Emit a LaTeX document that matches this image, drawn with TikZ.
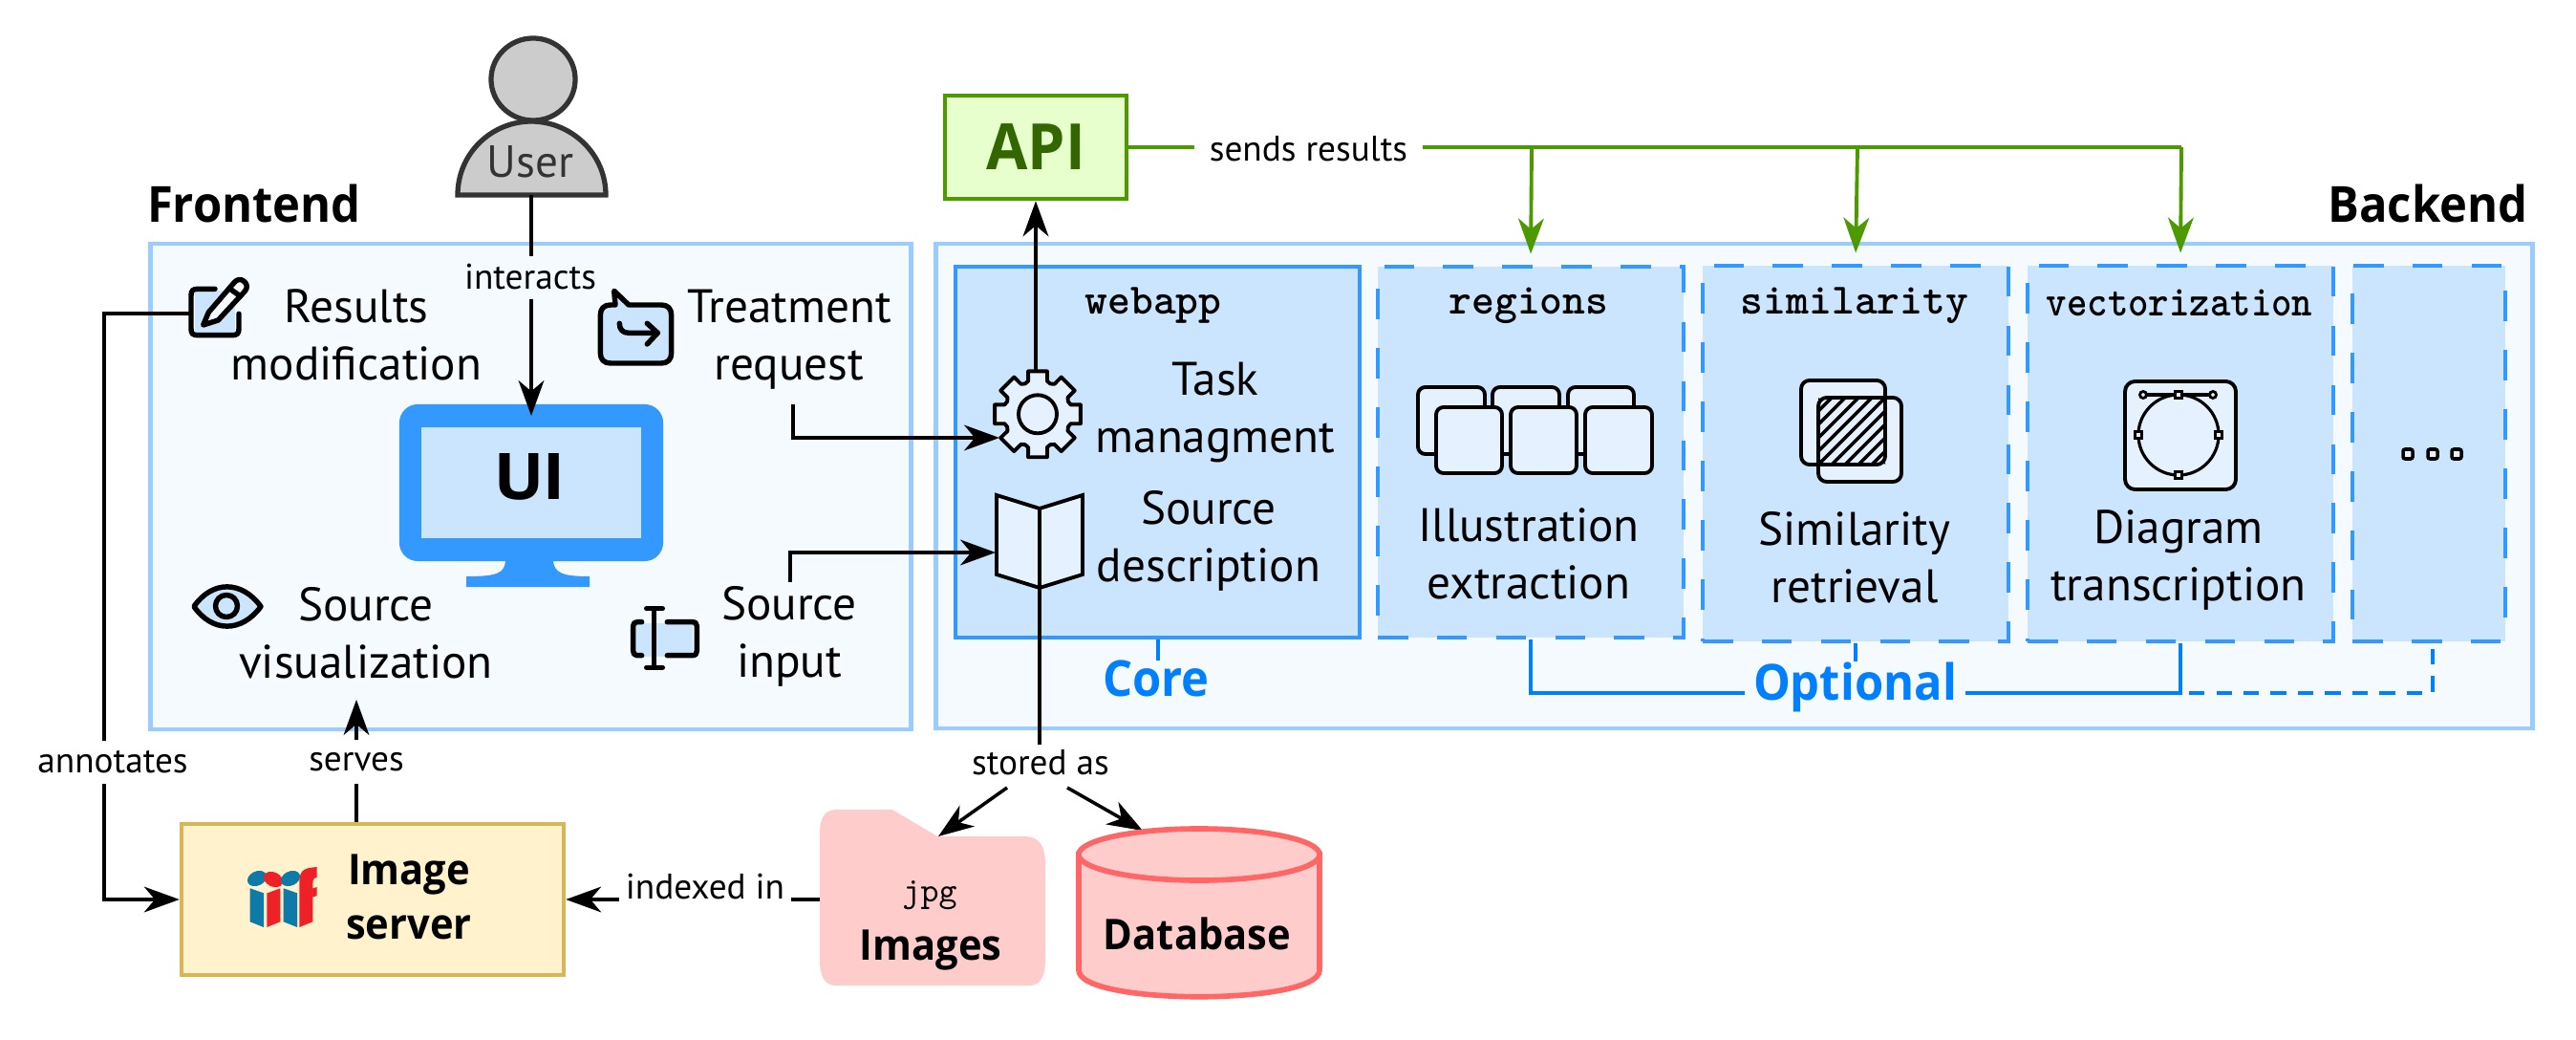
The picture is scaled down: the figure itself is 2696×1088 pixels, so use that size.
\documentclass[tikz,border=0pt]{standalone}
\usepackage{fontspec}
\usepackage{graphicx}
\usetikzlibrary{arrows.meta}
\setmainfont{PT Sans}
\newfontfamily\hdfont{Open Sans}[FakeStretch=0.94]
\definecolor{framefill}{HTML}{F5FAFF}
\definecolor{frameline}{HTML}{99CCFF}
\definecolor{bluefill}{HTML}{CCE5FF}
\definecolor{blueline}{HTML}{3399FF}
\definecolor{bluetext}{HTML}{007FFF}
\definecolor{iconfill}{HTML}{E5F1FF}
\definecolor{apiline}{HTML}{4D9900}
\definecolor{apifill}{HTML}{E6FFCC}
\definecolor{apitext}{HTML}{336600}
\definecolor{srvfill}{HTML}{FFF2CC}
\definecolor{srvline}{HTML}{D6B656}
\definecolor{redfill}{HTML}{FFCCCC}
\definecolor{redline}{HTML}{FF6666}
\definecolor{usergray}{HTML}{CCCCCC}
\definecolor{userline}{HTML}{333333}
\definecolor{iiifblue}{HTML}{0E7AA8}
\definecolor{iiifred}{HTML}{EE2126}
\tikzset{
 x=0.01cm,y=-0.01cm,
 frame/.style={draw=frameline,fill=framefill,line width=1.3pt,inner sep=0,rectangle},
 corebox/.style={draw=blueline,fill=bluefill,line width=1.2pt,inner sep=0,rectangle},
 optbox/.style={corebox,dash pattern=on 9pt off 8.6pt},
 apibox/.style={draw=apiline,fill=apifill,line width=1.3pt,inner sep=0,rectangle},
 srvbox/.style={draw=srvline,fill=srvfill,line width=1.2pt,inner sep=0,rectangle},
 conn/.style={draw=black,line width=1pt},
 arr/.style={conn,-{Stealth[length=10.5pt,width=7.6pt,inset=3.2pt]}},
 gconn/.style={draw=apiline,line width=1.1pt},
 garr/.style={gconn,-{Stealth[length=10.5pt,width=7.6pt,inset=3.2pt]},shorten >=3.2pt},
 bconn/.style={draw=bluetext,line width=1.1pt},
 body/.style={inner sep=0,align=center,font=\fontsize{14}{17.07}\selectfont},
 lab/.style={inner sep=0,minimum height=.45cm,font=\fontsize{10.6}{12}\selectfont},
 head/.style={inner sep=0,font=\hdfont\bfseries\fontsize{14.8}{17}\selectfont},
 bold/.style={inner sep=0,align=center,font=\hdfont\bfseries\fontsize{12.6}{16.2}\selectfont},
 pkg/.style={inner sep=0,font=\ttfamily\bfseries\fontsize{12.9}{14}\selectfont},
 icon/.style={draw=black,fill=iconfill,line width=1.1pt,line join=round},
 iconb/.style={draw=black,line width=1.55pt,line cap=round,line join=round},
}
\begin{document}
\begin{tikzpicture}
\useasboundingbox (0,0) rectangle (2696,1088);
\fill[white] (0,0) rectangle (2696,1088);
% frames
\node[frame,minimum width=7.95cm,minimum height=5.08cm] (frontbox) at (555.5,509) {};
\node[frame,minimum width=16.70cm,minimum height=5.07cm] (backbox) at (1815,508.5) {};
\node[head] (frontend) at (266,213) {Frontend};
\node[head] (backend) at (2541,213) {Backend};
% backend boxes
\node[corebox,minimum width=4.23cm,minimum height=3.88cm] (webapp) at (1211.5,473) {};
\node[optbox,minimum width=3.2cm,minimum height=3.88cm] (regions) at (1602,473) {};
\node[optbox,minimum width=3.2cm,minimum height=3.93cm] (similarity) at (1942,474.5) {};
\node[optbox,minimum width=3.2cm,minimum height=3.93cm] (vect) at (2282,474.5) {};
\node[optbox,minimum width=1.6cm,minimum height=3.93cm] (more) at (2542,474.5) {};
\node[pkg] (webappt) at (1207,320) {webapp};
\node[pkg] (regionst) at (1600,320) {regions};
\node[pkg] (similarityt) at (1941,320) {similarity};
\node[pkg] (vectt) at (2281,317) {\scalebox{.9}[1]{vectorization}};
\node[body] (task) at (1272,431) {Task\\managment};
\node[body] (srcdesc) at (1265,566) {Source\\description};
\node[body] (illus) at (1600,579) {Illustration\\extraction};
\node[body] (simret) at (1941,583) {Similarity\\retrieval};
\node[body] (diag) at (2280,586) {Diagram\\transcription};
% API
\node[apibox,minimum width=1.9cm,minimum height=1.08cm,text=apitext,font=\hdfont\bfseries\fontsize{19}{21}\selectfont] (api) at (1084,154) {API};
% image server
\node[srvbox,minimum width=4cm,minimum height=1.58cm] (imgserver) at (390,941) {};
\node[bold] (imgservert) at (428,938) {Image\\server};
% user
\draw[draw=userline,fill=usergray,line width=1.5pt] (558,83) ellipse [x radius=.44cm,y radius=.43cm];
\draw[draw=userline,fill=usergray,line width=1.5pt] (479,204) .. controls (479,160) and (515,127) .. (556,127) .. controls (597,127) and (634,160) .. (634,204) -- cycle;
\node[inner sep=0,text=userline,font=\fontsize{13.4}{15}\selectfont] (usert) at (555,169) {User};
\coordinate (userbase) at (556,204);
% monitor
\fill[blueline] (529,585) .. controls (529,600) and (520,603) .. (488,603) -- (488,614) -- (617,614) -- (617,603) .. controls (590,603) and (579,600) .. (579,585) -- cycle;
\node[fill=blueline,rectangle,rounded corners=5.5pt,inner sep=0,minimum width=2.76cm,minimum height=1.64cm] (ui) at (556,505) {};
\node[fill=bluefill,rectangle,inner sep=0,minimum width=2.30cm,minimum height=1.16cm] (uiscreen) at (556,505) {};
\node[inner sep=0,font=\bfseries\fontsize{19.5}{22}\selectfont] (uit) at (555,499) {\scalebox{1.16}[1]{UI}};
% frontend texts
\node[body] (results) at (373,350) {Results\\modification};
\node[body] (treatment) at (826,355) {Treatment\\request};
\node[body] (srcvis) at (383,662) {Source\\visualization};
\node[body] (srcinput) at (826,666) {Source\\input};
% labels
\node[lab] (interacts) at (555,290) {interacts};
\node[lab] (annotates) at (118,797) {annotates};
\node[lab] (serves) at (373,797) {serves};
\node[lab] (stored) at (1089,798) {stored as};
\node[lab,minimum width=1.8cm] (indexed) at (738,928) {indexed in};
\node[lab,minimum width=2.37cm] (sends) at (1369.5,156) {sends results};
\node[inner sep=0,text=bluetext,font=\hdfont\bfseries\fontsize{14.8}{17}\selectfont] (core) at (1210,710) {Core};
\node[inner sep=0,minimum width=2.29cm,text=bluetext,font=\hdfont\bfseries\fontsize{14.8}{17}\selectfont] (optional) at (1941.5,719) {Optional};
% coordinates
\coordinate (uitip) at (556,435);
\coordinate (pencilout) at (201,328);
\coordinate (annotx) at (109,328);
\coordinate (treatout) at (830,423);
\coordinate (geartip) at (1046,458);
\coordinate (booktip) at (1042,578);
\coordinate (gtop) at (1084,388);
\coordinate (bookbot) at (1088,615);
\coordinate (vistip) at (373,732);
\coordinate (storeL) at (1054,824);
\coordinate (storeR) at (1117,824);
\coordinate (foldtip) at (982,875);
\coordinate (dbtip) at (1196,869);
\coordinate (foldleft) at (858,941);
\coordinate (b1) at (1603,154);
\coordinate (b2) at (1944,154);
\coordinate (b3) at (2283,154);
\coordinate (optline) at (1942,725);
\coordinate (simstub) at (1942,692);
\coordinate (corestub) at (1212,691);
\coordinate (dstart) at (2291,725);
\coordinate (dend) at (2546,671);
\coordinate (srcup) at (827,609);
% connectors
\draw[conn] (userbase) -- (userbase |- 0,268);
\draw[arr] (userbase |- 0,313) -- (uitip);
\draw[conn] (pencilout) -- (annotx) -- (annotx |- 0,775);
\draw[arr] (annotx |- 0,820) |- (imgserver.west);
\draw[arr] (serves.north) -- (vistip);
\draw[conn] (imgserver.north -| serves) -- (serves.south);
\draw[arr] (treatout) |- (geartip);
\draw[arr] (srcup) |- (booktip);
\draw[arr] (gtop) -- (api.south);
\draw[conn] (bookbot) -- (bookbot |- 0,779);
\draw[arr] (storeL) -- (foldtip);
\draw[arr] (storeR) -- (dbtip);
\draw[conn] (foldleft) -- (828,941);
\draw[arr] (648,941) -- (imgserver.east);
\draw[gconn] (api.east) -- (sends.west |- api.east);
\draw[gconn] (sends.east |- api.east) -- (b3);
\draw[garr] (b1) -- (regions.north);
\draw[garr] (b2) -- (similarity.north);
\draw[garr] (b3) -- (vect.north);
\draw[bconn] (regions.south) |- (optional.west |- optline);
\draw[bconn] (optional.east |- optline) -| (vect.south);
\draw[bconn] (similarity.south) -- (simstub);
\draw[bconn] (webapp.south -| corestub) -- (corestub);
\draw[bconn,dash pattern=on 4.6pt off 3.5pt] (dstart) -| (dend);
% folder and database
\fill[redfill] (858,872) .. controls (858,854) and (864,847) .. (876,847) -- (934,847) -- (981,875) -- (1072,875) .. controls (1088,875) and (1094,885) .. (1094,905) -- (1094,1005) .. controls (1094,1022) and (1088,1031) .. (1078,1031) -- (874,1031) .. controls (864,1031) and (858,1022) .. (858,1005) -- cycle;
\node[inner sep=0,font=\ttfamily\fontsize{10.3}{12}\selectfont] (jpg) at (973,937) {jpg};
\node[bold] (images) at (974,994) {Images};
\draw[draw=redline,fill=redfill,line width=1.6pt] (1129,894) -- (1129,1015) .. controls (1129,1052) and (1381,1052) .. (1381,1015) -- (1381,894) -- cycle;
\draw[draw=redline,fill=redfill,line width=1.6pt] (1255,894) ellipse [x radius=1.26cm,y radius=.27cm];
\node[bold] (database) at (1253,977) {Database};
% iiif logo
\fill[iiifblue,rotate around={25:(269,919)}] (269,919) ellipse [x radius=.105cm,y radius=.075cm];
\fill[iiifred,rotate around={-25:(286,920)}] (286,920) ellipse [x radius=.105cm,y radius=.075cm];
\fill[iiifblue,rotate around={25:(304,919)}] (304,919) ellipse [x radius=.105cm,y radius=.075cm];
\fill[iiifblue] (261.7,929.3) -- (276,934.3) -- (276,970) -- (261.7,964.3) -- cycle;
\fill[iiifred] (279.3,934.5) -- (293.3,929.3) -- (293.3,964.3) -- (279.3,970) -- cycle;
\fill[iiifblue] (296.7,929.3) -- (311,934.3) -- (311,970) -- (296.7,964.3) -- cycle;
\fill[iiifred] (313.3,970) -- (313.3,922) .. controls (313.3,908) and (322,908) .. (331.7,907) -- (331.7,918) .. controls (327,918) and (327.3,922) .. (327.3,929.5) -- (331.7,928) -- (331.7,937) -- (327.3,938.5) -- (327.3,964.3) -- cycle;
% pencil icon
\fill[bluefill] (204,304) rectangle (246,349);
\draw[iconb] (225,302.3) -- (207,302.3) .. controls (202,302.3) and (200,304) .. (200,309) -- (200,344) .. controls (200,349) and (202,350.7) .. (207,350.7) -- (243,350.7) .. controls (248,350.7) and (250,349) .. (250,344) -- (250,328.3);
\draw[iconb,fill=framefill] (212.7,340) -- (218.3,326.7) -- (245,295.7) .. controls (248,292) and (252,291.5) .. (255,294) .. controls (259,297) and (259.5,301) .. (256,305) -- (228.3,335) -- cycle;
\draw[iconb] (240,301.7) -- (251.7,310);
% treatment icon
\draw[iconb,fill=bluefill] (644,319) -- (642.7,304.3) -- (658,319) -- (692,319) .. controls (699,319) and (702.7,323) .. (702.7,330) -- (702.7,369) .. controls (702.7,376) and (699,380) .. (692,380) -- (639,380) .. controls (632,380) and (628.3,376) .. (628.3,369) -- (628.3,330) .. controls (628.3,323) and (632,319) .. (639,319) -- cycle;
\draw[iconb] (648.3,338.3) .. controls (648.3,345) and (652,348.3) .. (658,348.3) -- (688.3,348.3);
\draw[iconb] (677.3,338.3) -- (688.3,348.3) -- (677.3,360);
% eye icon
\draw[iconb,fill=bluefill] (203,634.5) .. controls (222,607) and (253,607) .. (273,634.5) .. controls (253,662) and (222,662) .. (203,634.5) -- cycle;
\draw[iconb,fill=bluefill] (237,634) circle [radius=.115cm];
% input icon
\fill[bluefill] (665,652) rectangle (725,687);
\draw[iconb] (671.7,650.7) -- (667,650.7) .. controls (664,650.7) and (662.7,652) .. (662.7,655) -- (662.7,681) .. controls (662.7,684) and (664,685.7) .. (667,685.7) -- (671.7,685.7);
\draw[iconb] (698.3,650.7) -- (724,650.7) .. controls (728,650.7) and (729.3,652) .. (729.3,655) -- (729.3,681) .. controls (729.3,684) and (728,685.7) .. (724,685.7) -- (698.3,685.7);
\draw[iconb] (684.3,636.7) -- (684.3,698.3) (676.7,636.7) -- (693.3,636.7) (676.7,698.3) -- (693.3,698.3);
% gear
\begin{scope}[shift={(1086,433.3)}]
\draw[icon] (-16:36) \foreach \a in {0,45,...,315} { -- (\a-16:36) -- (\a-12.5:46) -- (\a+12.5:46) -- (\a+16:36) -- (\a+22.5:34.5) } -- cycle;
\draw[icon] (0,0) circle [radius=.2cm];
\end{scope}
% book
\draw[icon,line join=miter] (1043,518) -- (1088,532) -- (1133,518) -- (1133,601) -- (1088,615) -- (1043,601) -- cycle;
\draw[conn,line width=1.1pt] (1088,532) -- (1088,615);
% squares
\foreach \xa/\xb in {1484/1554,1562/1632,1641/1710}{\draw[icon,rounded corners=2.2pt] (\xa,405) rectangle (\xb,475);}
\foreach \xa/\xb in {1503/1572,1581/1650,1659/1729}{\draw[icon,rounded corners=2.2pt] (\xa,426) rectangle (\xb,495);}
% similarity icon
\fill[iconfill,rounded corners=2.5pt] (1885,398) rectangle (1973,486);
\fill[iconfill,rounded corners=2.5pt] (1903,416) rectangle (1990,504);
\begin{scope}
\clip (1903,416) rectangle (1973,486);
\foreach \i in {1833,1847,...,1973}{\draw[line width=1pt] (\i,486) -- ++(70,-70);}
\end{scope}
\draw[line width=1.1pt,rounded corners=2.5pt] (1885,398) rectangle (1973,486);
\draw[line width=1.1pt,rounded corners=2.5pt] (1903,416) rectangle (1990,504);
% vector icon
\draw[icon,rounded corners=3pt] (2224,399) rectangle (2340,512);
\draw[line width=.9pt] (2280,455) ellipse [x radius=.42cm,y radius=.42cm];
\draw[line width=.9pt] (2243,413) -- (2316,413);
\foreach \qx/\qy in {2280/413,2280/497,2238/455,2322/455}{\draw[fill=iconfill,line width=.8pt] (\qx-3.5,\qy-3.5) rectangle (\qx+3.5,\qy+3.5);}
\draw[fill=iconfill,line width=.8pt] (2243,413) circle [radius=.035cm];
\draw[fill=iconfill,line width=.8pt] (2316,413) circle [radius=.035cm];
% dots
\foreach \qx in {2520,2546,2571}{\draw[fill=iconfill,line width=1pt,rounded corners=.6pt] (\qx-5,470) rectangle (\qx+5,480);}
\end{tikzpicture}
\end{document}
